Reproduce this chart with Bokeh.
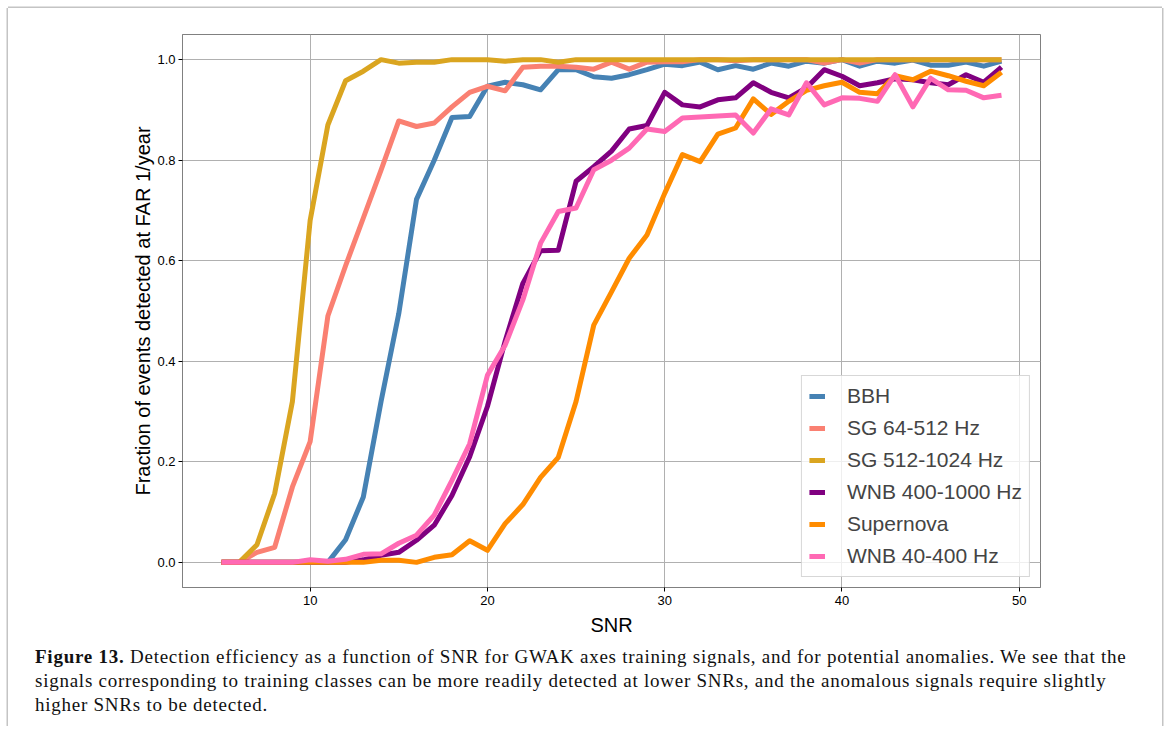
from bokeh.plotting import figure
from bokeh.models import Legend, LegendItem, Div, FixedTicker
from bokeh.layouts import column
from bokeh.embed import file_html
from bokeh.resources import INLINE

snr = [5, 6, 7, 8, 9, 10, 11, 12, 13, 14, 15, 16, 17, 18, 19, 20, 21, 22, 23, 24, 25, 26, 27,
       28, 29, 30, 31, 32, 33, 34, 35, 36, 37, 38, 39, 40, 41, 42, 43, 44, 45, 46, 47, 48, 49]

bbh = [0, 0, 0, 0, 0, 0, 0, 0.045, 0.13, 0.32, 0.495, 0.722, 0.80, 0.885, 0.887, 0.947, 0.955,
       0.95, 0.94, 0.98, 0.98, 0.966, 0.963, 0.970, 0.98, 0.991, 0.988, 0.995, 0.98, 0.988, 0.981,
       0.993, 0.987, 0.997, 0.993, 1.0, 0.987, 0.997, 0.993, 0.999, 0.989, 0.989, 0.995, 0.987, 0.997]

sg_low = [0, 0, 0.02, 0.03, 0.15, 0.24, 0.49, 0.59, 0.685, 0.78, 0.878, 0.867, 0.874, 0.906, 0.935,
          0.947, 0.938, 0.985, 0.987, 0.987, 0.985, 0.981, 0.995, 0.981, 0.995, 0.996, 0.996, 1.0,
          1.0, 0.998, 1.0, 1.0, 1.0, 1.0, 0.993, 1.0, 0.993, 1.0, 1.0, 1.0, 1.0, 1.0, 1.0, 1.0, 1.0]

sg_high = [0, 0, 0.035, 0.137, 0.32, 0.68, 0.87, 0.958, 0.977, 1.0, 0.993, 0.995, 0.995, 1.0, 1.0,
           1.0, 0.997, 1.0, 1.0, 0.995, 1.0, 1.0, 1.0, 1.0, 1.0, 1.0, 1.0, 1.0, 1.0, 1.0, 1.0, 1.0,
           1.0, 1.0, 1.0, 1.0, 1.0, 1.0, 1.0, 1.0, 1.0, 1.0, 1.0, 1.0, 1.0]

wnb_high = [0, 0, 0, 0, 0, 0, 0, 0, 0.005, 0.014, 0.02, 0.044, 0.074, 0.133, 0.21, 0.31, 0.44,
            0.555, 0.62, 0.621, 0.758, 0.787, 0.818, 0.862, 0.869, 0.935, 0.91, 0.906, 0.92, 0.924,
            0.954, 0.935, 0.924, 0.944, 0.98, 0.967, 0.948, 0.954, 0.962, 0.96, 0.954, 0.95, 0.97,
            0.955, 0.985]

supernova = [0, 0, 0, 0, 0, 0, 0, 0, 0, 0.004, 0.004, 0.0, 0.01, 0.015, 0.043, 0.024, 0.077, 0.115,
             0.169, 0.209, 0.32, 0.472, 0.538, 0.605, 0.651, 0.734, 0.811, 0.797, 0.852, 0.864,
             0.922, 0.891, 0.917, 0.939, 0.948, 0.955, 0.935, 0.932, 0.968, 0.96, 0.977, 0.968,
             0.957, 0.948, 0.975]

wnb_low = [0, 0, 0, 0, 0, 0.005, 0.002, 0.006, 0.016, 0.017, 0.038, 0.054, 0.094, 0.163, 0.236,
           0.372, 0.432, 0.522, 0.635, 0.698, 0.705, 0.781, 0.80, 0.824, 0.862, 0.857, 0.884, 0.886,
           0.888, 0.89, 0.854, 0.902, 0.89, 0.954, 0.91, 0.924, 0.923, 0.917, 0.97, 0.906, 0.963,
           0.94, 0.939, 0.924, 0.929]

labels = ["BBH", "SG 64-512 Hz", "SG 512-1024 Hz", "WNB 400-1000 Hz", "Supernova", "WNB 40-400 Hz"]
series = [bbh, sg_low, sg_high, wnb_high, supernova, wnb_low]
colors = ["#4682B4", "#FA8072", "#DAA520", "#800080", "#FF8C00", "#FF69B4"]

x_ticks = [10, 20, 30, 40, 50]
y_ticks = [0.0, 0.2, 0.4, 0.6, 0.8, 1.0]

caption_lines = [
    "<b>Figure 13.</b> Detection efficiency as a function of SNR for GWAK axes training signals, and for potential anomalies. We see that the",
    "signals corresponding to training classes can be more readily detected at lower SNRs, and the anomalous signals require slightly",
    "higher SNRs to be detected.",
]

p = figure(width=1154, height=630, output_backend="svg", toolbar_location=None,
           x_range=(2.8, 51.2), y_range=(-0.05, 1.05),
           min_border_left=174, min_border_right=122, min_border_top=26, min_border_bottom=51)
p.background_fill_color = "white"
p.border_fill_color = "white"
p.outline_line_color = "#808080"
p.outline_line_width = 1

items = []
for lab, ys, col in zip(labels, series, colors):
    r = p.line(snr, ys, line_color=col, line_width=5, line_join="round")
    items.append(LegendItem(label=lab, renderers=[r]))

for ax in (p.xaxis[0], p.yaxis[0]):
    ax.axis_line_color = "#808080"
    ax.major_tick_line_color = "black"
    ax.major_tick_out = 4
    ax.major_tick_in = 0
    ax.minor_tick_line_color = None
    ax.major_label_text_font = "Liberation Sans"
    ax.major_label_text_font_size = "13px"
    ax.major_label_text_color = "black"
    ax.axis_label_text_font = "Liberation Sans"
    ax.axis_label_text_font_size = "20px"
    ax.axis_label_text_font_style = "normal"
    ax.axis_label_text_color = "black"

p.xaxis.ticker = FixedTicker(ticks=x_ticks)
p.yaxis.ticker = FixedTicker(ticks=y_ticks)
p.yaxis.major_label_overrides = {v: f"{v:.1f}" for v in y_ticks}
p.xaxis.axis_label = "SNR"
p.yaxis.axis_label = "Fraction of events detected at FAR 1/year"
p.xaxis.axis_label_standoff = 6
p.yaxis.axis_label_standoff = 0
p.xaxis.major_label_standoff = 4
p.yaxis.major_label_standoff = 3

p.xgrid.grid_line_color = "#b0b0b0"
p.ygrid.grid_line_color = "#b0b0b0"
p.xgrid.grid_line_width = 1
p.ygrid.grid_line_width = 1

legend = Legend(items=items, location="bottom_right", margin=10, padding=7, spacing=6,
                glyph_width=16, glyph_height=26, label_height=26, label_standoff=22,
                label_text_font="Liberation Sans", label_text_font_size="21px",
                border_line_color="#b0b0b0", border_line_width=1.5,
                background_fill_color="white", background_fill_alpha=0.8)
p.add_layout(legend)

caption = Div(text="<br>".join(caption_lines), width=1154, height=88, margin=(0, 0, 0, 0),
              styles={"font-family": "'Liberation Serif', serif", "font-size": "19px",
                      "letter-spacing": "0.75px",
                      "line-height": "24px", "padding-left": "27px", "padding-top": "7px",
                      "white-space": "nowrap", "color": "#111"})

layout = column(p, caption, spacing=0,
                styles={"box-shadow": "-1.5px 0 0 #c4c4c4, 1.5px 0 0 #c4c4c4, 0 -1.5px 0 #c4c4c4",
                        "background": "white", "margin-left": "8px", "margin-top": "8px"})

open("out.html", "w").write(file_html(layout, INLINE))
